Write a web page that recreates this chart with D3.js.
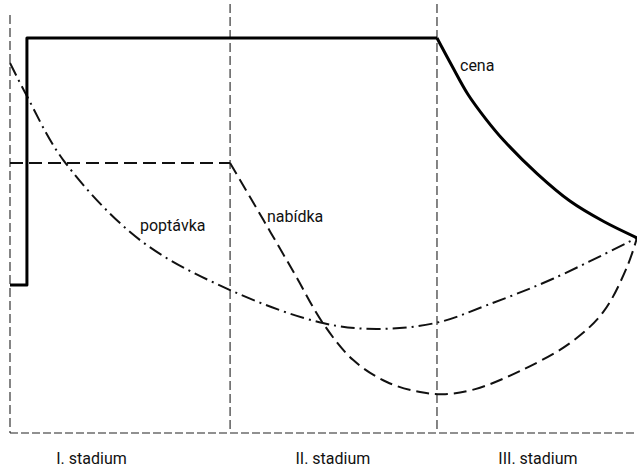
<!DOCTYPE html>
<html>
<head>
<meta charset="utf-8">
<script src="https://cdn.jsdelivr.net/npm/d3@7"></script>
<style>
  body { margin: 0; background: #fff; }
  svg { display: block; }
  text { font-family: Roboto, "DejaVu Sans", sans-serif; fill: #111; font-weight: 400; }
</style>
</head>
<body>
<div id="chart"></div>
<script>
// stage boundaries (time axis, 0..100)
var stageBounds = [0, 35.1, 68.1]
var stageLabels = ["I. stadium", "II. stadium", "III. stadium"]
var stageLabelAt = [13, 51.5, 84.2]

// cena (price) - step part then decay
var cenaX = [0, 2.7, 2.7, 68.1]
var cenaY = [35.4, 35.4, 94.5, 94.5]
var cenaDecayX = [68.1, 70.5, 73.0, 75.9, 78.8, 84.1, 89.3, 94.7, 100]
var cenaDecayY = [94.5, 87.8, 81.1, 75.1, 69.9, 62.0, 55.5, 50.6, 46.7]

// poptavka (demand)
var poptavkaX = [0, 2.7, 8.5, 20.7, 35.1, 49.9, 58.5, 68.1, 76.1, 86.6, 100]
var poptavkaY = [88.5, 80.6, 65.3, 46.2, 34.2, 26.3, 24.9, 26.4, 30.6, 36.9, 46.7]

// nabidka (supply) - flat part then curve
var nabidkaX = [0, 35.1]
var nabidkaY = [64.6, 64.6]
var nabidkaCurveX = [35.1, 40.4, 45.5, 49.9, 54.7, 60.1, 65.4, 69.4, 74.2, 81.3, 89.3, 94.6, 98.4, 100]
var nabidkaCurveY = [64.6, 51.0, 37.8, 26.3, 17.5, 12.2, 9.8, 9.3, 10.5, 14.8, 21.5, 28.9, 39.7, 46.7]

var svgWidth = 637
var svgHeight = 469

var svg = d3.select("#chart")
  .append("svg")
  .attr("width", svgWidth)
  .attr("height", svgHeight)

var xScale = d3.scaleLinear().domain([0, 100]).range([10, 637])
var yScale = d3.scaleLinear().domain([0, 100]).range([433, 15])

function pts(xs, ys) {
  return xs.map(function(x, i) { return [x, ys[i]] })
}

var lineLinear = d3.line()
  .x(d => xScale(d[0]))
  .y(d => yScale(d[1]))

var lineCurve = d3.line()
  .x(d => xScale(d[0]))
  .y(d => yScale(d[1]))
  .curve(d3.curveCatmullRom.alpha(0.5))

// frame: left axis, baseline, stage dividers
var frame = svg.append("g")
  .attr("stroke", "#222")
  .attr("stroke-width", 1.1)
  .attr("fill", "none")

frame.selectAll("line.div")
  .data(stageBounds)
  .enter()
  .append("line")
  .attr("class", "div")
  .attr("x1", d => xScale(d))
  .attr("x2", d => xScale(d))
  .attr("y1", (d, i) => i == 0 ? yScale(100) : 4)
  .attr("y2", yScale(0))
  .attr("stroke-dasharray", "9,4")

frame.append("line")
  .attr("x1", xScale(0))
  .attr("x2", xScale(100))
  .attr("y1", yScale(0))
  .attr("y2", yScale(0))
  .attr("stroke-dasharray", "8,3")

// nabidka
var nab = svg.append("g")
  .attr("fill", "none")
  .attr("stroke", "#111")
  .attr("stroke-width", 2)
  .attr("stroke-dasharray", "13,6")

nab.append("path")
  .attr("d", lineLinear(pts(nabidkaX, nabidkaY)))
nab.append("path")
  .attr("d", lineCurve(pts(nabidkaCurveX, nabidkaCurveY)))

// poptavka
svg.append("path")
  .attr("fill", "none")
  .attr("stroke", "#111")
  .attr("stroke-width", 2)
  .attr("stroke-dasharray", "14,5,2,5")
  .attr("d", lineCurve(pts(poptavkaX, poptavkaY)))

// cena
var cena = svg.append("g")
  .attr("fill", "none")
  .attr("stroke", "#000")
  .attr("stroke-width", 3)
  .attr("stroke-linejoin", "round")

cena.append("path")
  .attr("d", lineLinear(pts(cenaX, cenaY)))
cena.append("path")
  .attr("d", lineCurve(pts(cenaDecayX, cenaDecayY)))

// curve labels
svg.append("text").attr("x", 460).attr("y", 71).attr("font-size", 16).text("cena")
svg.append("text").attr("x", 140).attr("y", 231).attr("font-size", 16).text("poptávka")
svg.append("text").attr("x", 267).attr("y", 222).attr("font-size", 16).text("nabídka")

// stage labels
svg.append("g")
  .selectAll("text")
  .data(stageLabels)
  .enter()
  .append("text")
  .attr("x", (d, i) => xScale(stageLabelAt[i]))
  .attr("y", 464)
  .attr("text-anchor", "middle")
  .attr("font-size", 16)
  .text(d => d)
</script>
</body>
</html>
